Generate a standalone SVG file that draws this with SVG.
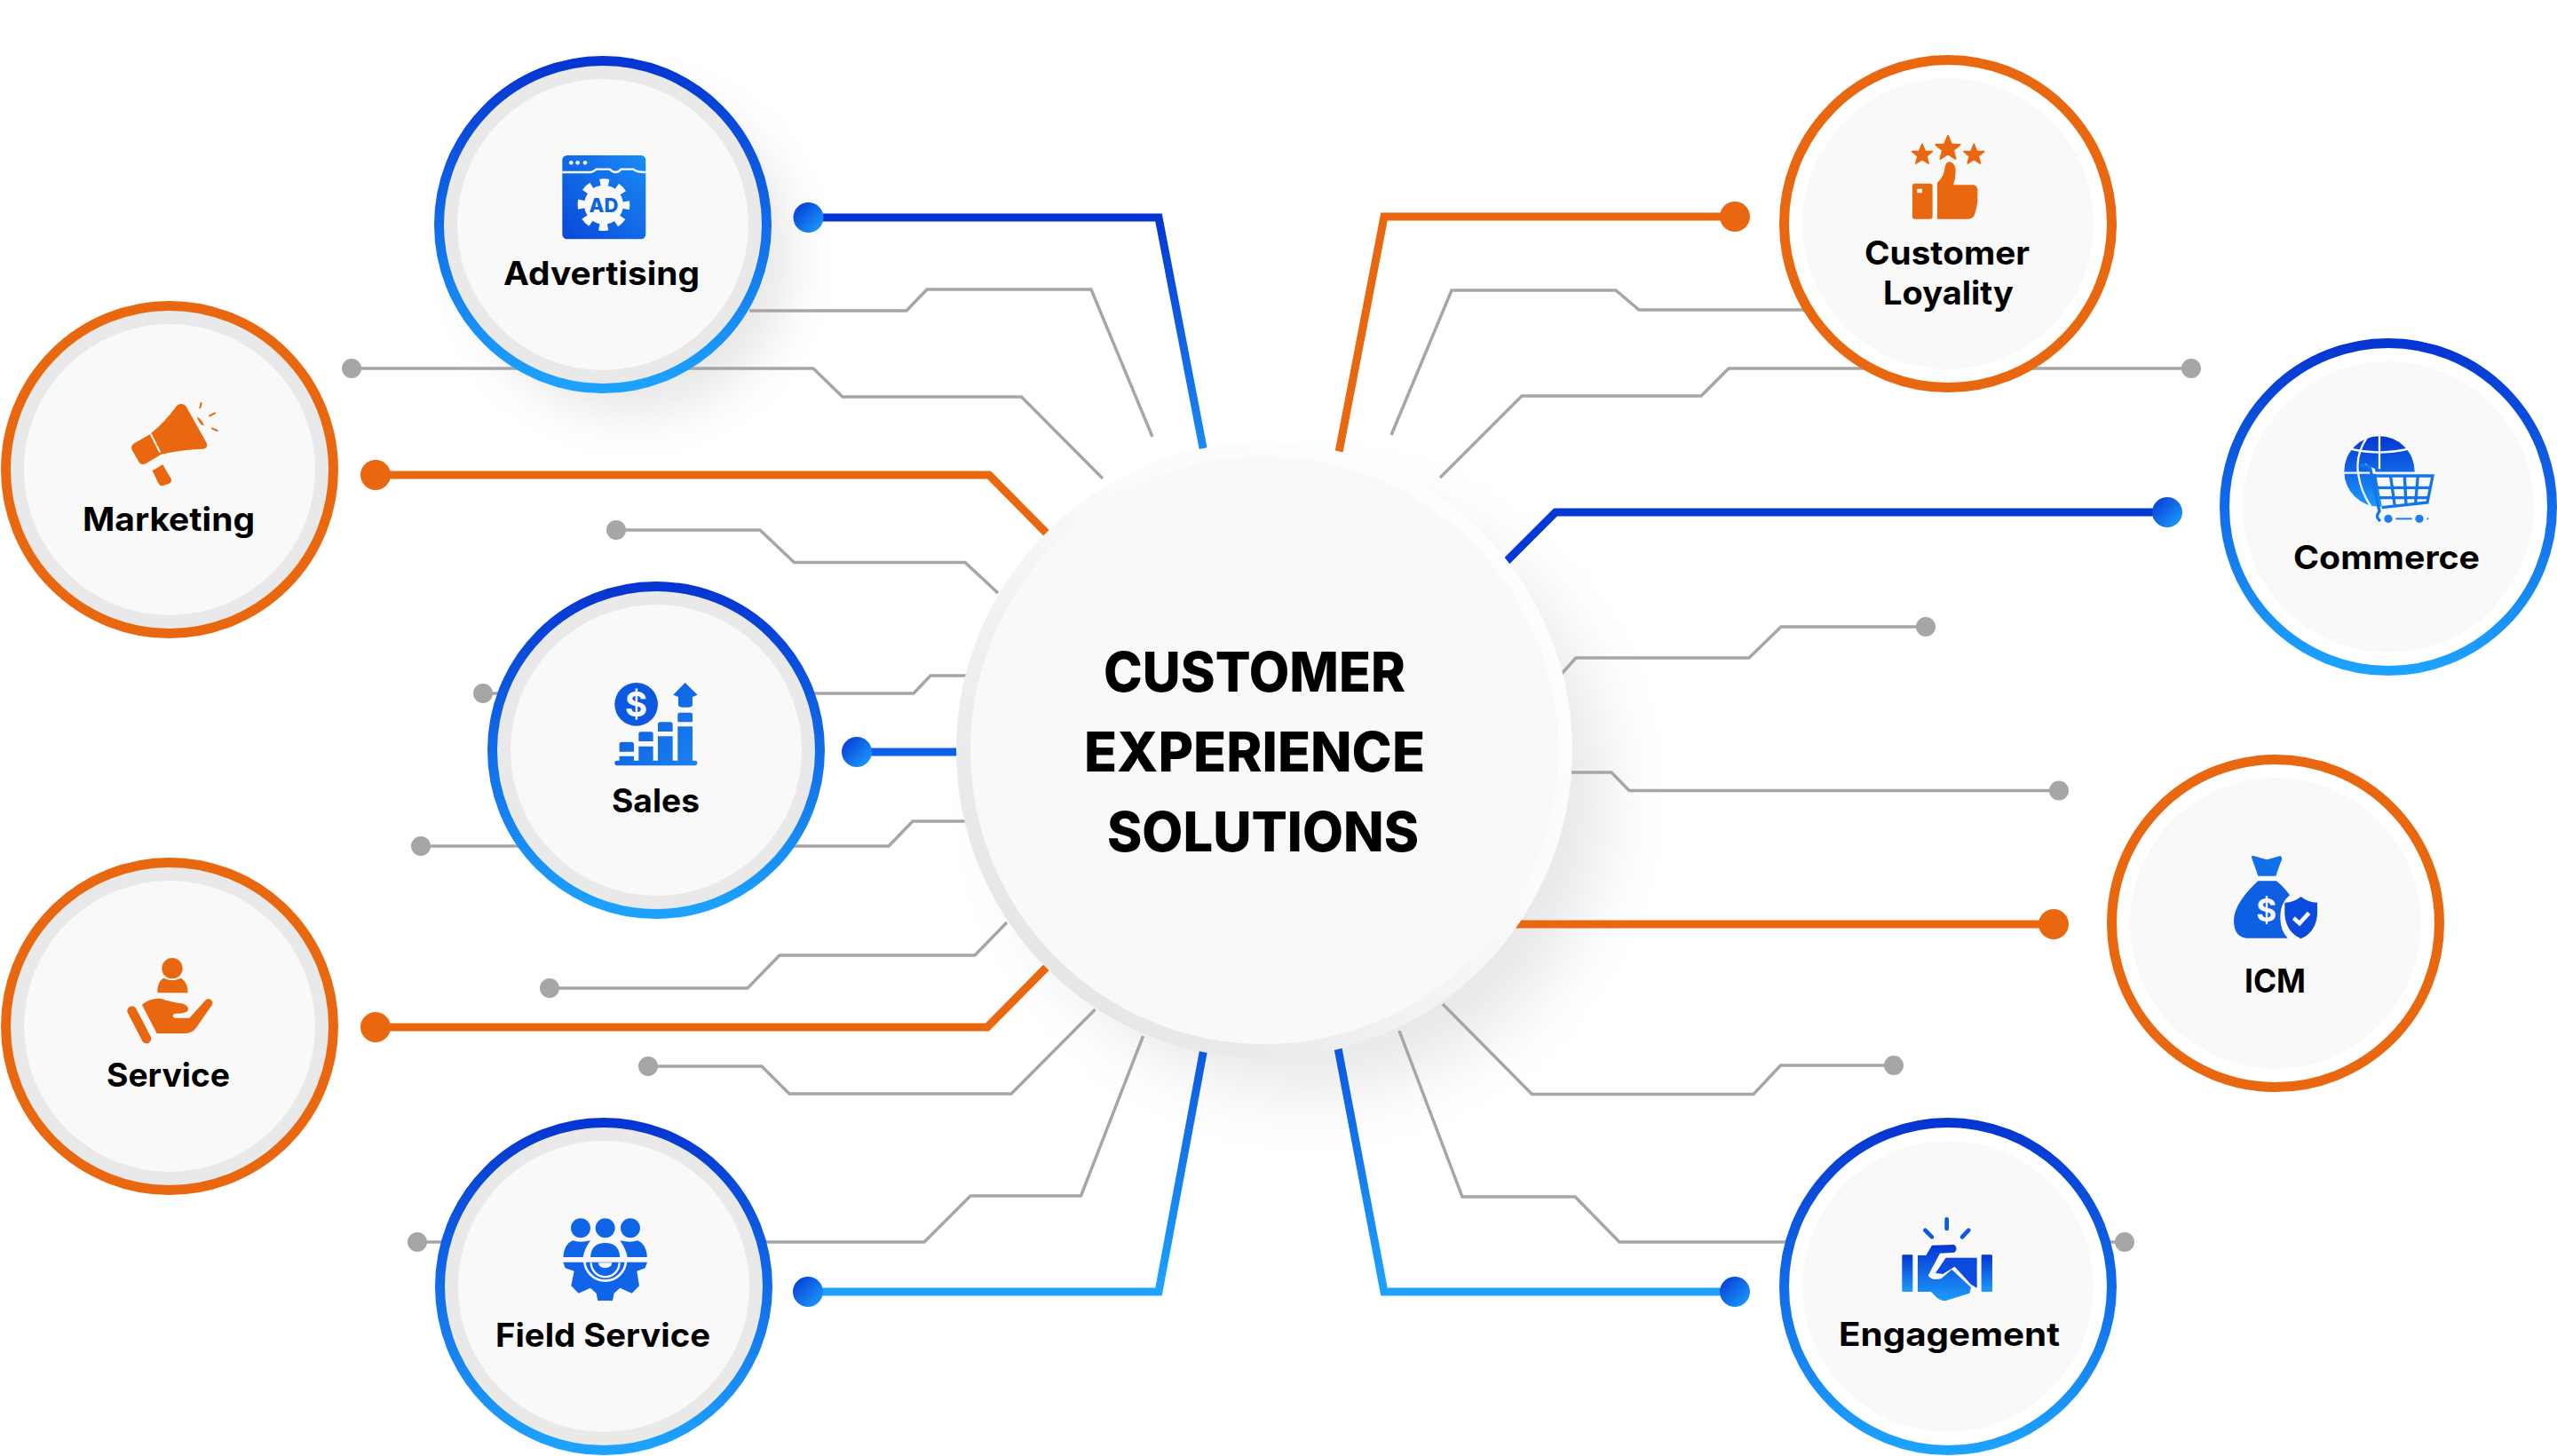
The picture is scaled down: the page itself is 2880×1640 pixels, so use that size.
<svg xmlns="http://www.w3.org/2000/svg" width="2880" height="1640" viewBox="0 0 2880 1640">
<style>
text{font-family:Inter,"Liberation Sans",sans-serif;fill:#000;font-weight:700}
.lb{font-size:37px}
.ti{font-size:62px;font-weight:800}
.gl{fill:none;stroke:#a6a6a6;stroke-width:3.5;stroke-linejoin:miter}
.gd{fill:#a6a6a6}
.cl{fill:none;stroke-width:9;stroke-linejoin:miter}
.or{fill:#e9670f}
.orl{stroke:#e9670f}
.rb{fill:none;stroke-width:11}
.rbo{stroke:#e9670f}
.rbb{stroke:url(#ring)}
.bl{fill:#e9e9e9}
.bw{fill:#fff}
.in{fill:#f9f9f9}
.cut{fill:none;stroke:#f9f9f9;stroke-linecap:round}
</style>
<defs>
<linearGradient id="ring" x1="0" y1="0" x2="0" y2="1"><stop offset="0" stop-color="#0535d2"/><stop offset="1" stop-color="#1da3ff"/></linearGradient>
<linearGradient id="down" x1="0" y1="0" x2="0" y2="1"><stop offset="0" stop-color="#0535d2"/><stop offset="1" stop-color="#1b90f5"/></linearGradient>
<linearGradient id="up" x1="0" y1="1" x2="0" y2="0"><stop offset="0" stop-color="#1da3ff"/><stop offset="1" stop-color="#0a55dc"/></linearGradient>
<linearGradient id="dot" x1="0" y1="0" x2="1" y2="1"><stop offset="0" stop-color="#0535d2"/><stop offset="1" stop-color="#1da3ff"/></linearGradient>
<linearGradient id="ico" x1="0" y1="1" x2="1" y2="0"><stop offset="0" stop-color="#0a47d8"/><stop offset="1" stop-color="#1a8cf5"/></linearGradient>
<linearGradient id="ico2" x1="0" y1="0" x2="1" y2="1"><stop offset="0" stop-color="#0a50da"/><stop offset="1" stop-color="#1a84f2"/></linearGradient>
<linearGradient id="icv" x1="0" y1="0" x2="0" y2="1"><stop offset="0" stop-color="#0535d2"/><stop offset="1" stop-color="#1d9bfb"/></linearGradient>
<linearGradient id="cband" x1="0" y1="1" x2="1" y2="0"><stop offset="0.1" stop-color="#e4e4e4"/><stop offset="0.6" stop-color="#fbfbfb"/><stop offset="1" stop-color="#fff"/></linearGradient>
<filter id="sh1" x="-30%" y="-30%" width="160%" height="160%"><feGaussianBlur stdDeviation="36"/></filter>
<filter id="sh2" x="-30%" y="-30%" width="160%" height="160%"><feGaussianBlur stdDeviation="26"/></filter>
<polygon id="star" points="0,-1 .27,-.34 .95,-.31 .42,.13 .59,.81 0,.43 -.59,.81 -.42,.13 -.95,-.31 -.27,-.34" stroke="#e9670f" stroke-width=".14" stroke-linejoin="round"/>
</defs>
<rect width="2880" height="1640" fill="#fff"/>
<circle cx="1474" cy="895" r="335" fill="#c8c8c8" opacity=".42" filter="url(#sh1)"/>
<circle cx="712" cy="288" r="180" fill="#c8c8c8" opacity=".42" filter="url(#sh2)"/>
<g id="connectors">
<path class="gl" d="M396 415H916L949 447H1150.5L1242 539"/><circle class="gd" cx="396" cy="415" r="11"/>
<path class="gl" d="M844 350H1021L1044 326H1229L1298 492"/>
<path class="gl" d="M694 597H856L894.5 633.5H1087L1124 668"/><circle class="gd" cx="694" cy="597" r="11"/>
<path class="gl" d="M544 781H1029L1048 761H1090"/><circle class="gd" cx="544" cy="781" r="11"/>
<path class="gl" d="M474 953H1001L1028 925H1090"/><circle class="gd" cx="474" cy="953" r="11"/>
<path class="gl" d="M619 1113H842L878 1076H1098L1134 1039"/><circle class="gd" cx="619" cy="1113" r="11"/>
<path class="gl" d="M730 1201H858L889 1232H1139L1233.5 1137"/><circle class="gd" cx="730" cy="1201" r="11"/>
<path class="gl" d="M470 1399H1041L1093 1347H1217.5L1287.5 1167"/><circle class="gd" cx="470" cy="1399" r="11"/>
<path class="gl" d="M1567 490L1635 327H1820L1846 349H2100"/>
<path class="gl" d="M1622 538L1714 446H1916L1947 415H2468"/><circle class="gd" cx="2468" cy="415" r="11"/>
<path class="gl" d="M1740 780L1775 741H1970L2006 706H2169"/><circle class="gd" cx="2169" cy="706" r="11"/>
<path class="gl" d="M1750 870H1815L1835 890.5H2319"/><circle class="gd" cx="2319" cy="890.5" r="11"/>
<path class="gl" d="M1625 1131L1725.5 1232.5H1975L2005.5 1200H2133"/><circle class="gd" cx="2133" cy="1200" r="11"/>
<path class="gl" d="M1576 1161L1647 1348H1774L1824 1399H2393"/><circle class="gd" cx="2393" cy="1399" r="11"/>
<path class="cl" stroke="url(#down)" d="M910 245H1305L1358 520"/><circle fill="url(#dot)" cx="910.5" cy="245" r="17"/>
<path class="cl orl" d="M423 535H1114L1195 617"/><circle class="or" cx="423" cy="535" r="17"/>
<path class="cl" stroke="#0c60e6" d="M965 847H1100"/><circle fill="url(#dot)" cx="965" cy="847" r="17"/>
<path class="cl orl" d="M423 1157H1112L1195 1073"/><circle class="or" cx="423" cy="1157" r="17"/>
<path class="cl" stroke="url(#up)" d="M910 1455H1305L1358 1170"/><circle fill="url(#dot)" cx="910" cy="1455" r="17"/>
<path class="cl orl" d="M1954 244H1559L1505 525"/><circle class="or" cx="1954" cy="244" r="17"/>
<path class="cl" stroke="#0538d4" d="M2441 577H1752L1680 649"/><circle fill="url(#dot)" cx="2441" cy="577" r="17"/>
<path class="cl orl" d="M2313 1041H1690"/><circle class="or" cx="2313" cy="1041" r="17"/>
<path class="cl" stroke="url(#up)" d="M1954 1455H1559L1505 1170"/><circle fill="url(#dot)" cx="1954" cy="1455" r="17"/>
</g>

<g id="center">
<circle cx="1424" cy="845" r="347" fill="url(#cband)"/>
<circle class="in" cx="1424" cy="845" r="331"/>
<text class="ti" x="1243" y="779" textLength="340" lengthAdjust="spacingAndGlyphs">CUSTOMER</text>
<text class="ti" x="1221" y="869" textLength="384" lengthAdjust="spacingAndGlyphs">EXPERIENCE</text>
<text class="ti" x="1247" y="959" textLength="351" lengthAdjust="spacingAndGlyphs">SOLUTIONS</text>
</g>

<g id="node-advertising">
<circle class="bl" cx="679" cy="253" r="185"/><circle class="in" cx="679" cy="253" r="164"/><circle class="rb rbb" cx="679" cy="253" r="184.5"/>
<g transform="translate(480,60) scale(.3333)">
<rect x="460" y="345" width="282" height="283" rx="16" fill="url(#ico)"/>
<path d="M460 402H555Q565 402 575 392H620Q630 402 640 402Q650 402 658 392H700Q710 402 742 402" fill="none" stroke="#f9f9f9" stroke-width="7"/>
<circle cx="490" cy="370" r="7" fill="#f9f9f9"/><circle cx="512" cy="370" r="7" fill="#f9f9f9"/><circle cx="537" cy="370" r="7" fill="#f9f9f9"/>
<circle cx="600" cy="512" r="66" fill="#f9f9f9"/>
<circle cx="600" cy="512" r="76" fill="none" stroke="#f9f9f9" stroke-width="24" stroke-dasharray="29.8 29.9" stroke-dashoffset="14.9"/>
<text x="600" y="537" text-anchor="middle" font-size="66" style="font-weight:800;fill:#0f62e6">AD</text>
</g>
<text class="lb" x="567" y="321" textLength="221" lengthAdjust="spacingAndGlyphs">Advertising</text>
</g>

<g id="node-marketing">
<circle class="bl" cx="191" cy="529" r="185"/><circle class="in" cx="191" cy="529" r="164"/><circle class="rb rbo" cx="191" cy="529" r="184.5"/>
<g class="or" transform="translate(0,330) scale(.3333)">
<path d="M446 530Q440 517 455 507L503 480Q555 440 597 382Q612 366 628 382L697 505Q705 525 685 527Q610 530 545 545L495 575Q478 585 470 572Z"/>
<path d="M515 600L550 580L578 628Q582 640 570 645L548 652Q540 652 535 643Z"/>
<path d="M665 418Q680 425 690 448Q675 448 665 418Z"/>
<path class="cut" d="M510 478L540 537" stroke-width="6"/>
<path d="M680 372L676 388M708 415L726 406M717 458L734 465" fill="none" stroke="#e9670f" stroke-width="6" stroke-linecap="round"/>
</g>
<text class="lb" x="93" y="598" textLength="194" lengthAdjust="spacingAndGlyphs">Marketing</text>
</g>

<g id="node-sales">
<circle class="bl" cx="739" cy="845" r="185"/><circle class="in" cx="739" cy="845" r="164"/><circle class="rb rbb" cx="739" cy="845" r="184.5"/>
<g transform="translate(560,650) scale(.3333)">
<circle cx="470" cy="430" r="73" fill="#0d58e0"/>
<text x="470" y="472" text-anchor="middle" font-size="115" style="fill:#f9f9f9;font-weight:700">$</text>
<path fill="url(#ico2)" d="M397 628Q397 620 405 620H668Q676 620 676 628Q676 637 668 637H405Q397 637 397 628ZM413 605H462V620H413ZM413 565Q413 557 421 557H454Q462 557 462 565V590H413ZM478 530Q478 523 486 523H519Q527 523 527 530V555H478ZM478 572H527V620H478ZM543 498Q543 490 551 490H585Q593 490 593 498V522H543ZM543 538H593V620H543ZM610 465Q610 458 618 458H652Q660 458 660 465V490H610ZM610 505H660V620H610ZM635 357L677 398L660 405V430Q660 440 648 440H624Q612 440 612 430V405L595 398Z"/>
</g>
<text class="lb" x="689" y="915" textLength="99" lengthAdjust="spacingAndGlyphs">Sales</text>
</g>

<g id="node-service">
<circle class="bl" cx="191" cy="1156" r="185"/><circle class="in" cx="191" cy="1156" r="164"/><circle class="rb rbo" cx="191" cy="1156" r="184.5"/>
<g class="or" transform="translate(0,960) scale(.3333)">
<circle cx="582" cy="392" r="35"/>
<path d="M532 475Q530 440 552 425Q582 440 612 425Q635 440 635 475Z"/>
<path d="M446 536L495 630" fill="none" stroke="#e9670f" stroke-width="32" stroke-linecap="round"/>
<path d="M480 515Q510 490 545 495Q570 505 620 512Q640 520 635 535Q630 545 590 545Q578 553 590 560H640L690 505Q705 485 718 505Q720 515 710 525L665 590Q650 612 625 612H530Z"/>
</g>
<text class="lb" x="120" y="1224" textLength="139" lengthAdjust="spacingAndGlyphs">Service</text>
</g>

<g id="node-field-service">
<circle class="bl" cx="680" cy="1449" r="185"/><circle class="in" cx="680" cy="1449" r="164"/><circle class="rb rbb" cx="680" cy="1449" r="184.5"/>
<g transform="translate(490,1260) scale(.3333)">
<path d="M433 485H717L710 505L682 515L690 565L665 590L625 572L605 590L600 615H550L545 590L525 572L485 590L460 565L470 515L440 505Z" fill="#0f64e8"/>
<circle cx="492" cy="370" r="33" fill="#0f64e8"/><circle cx="575" cy="370" r="33" fill="#0f64e8"/><circle cx="660" cy="370" r="33" fill="#0f64e8"/>
<path d="M433 468Q435 425 465 412Q490 420 525 412Q505 440 500 468Z" fill="#0f64e8"/>
<path d="M717 468Q715 425 685 412Q660 420 625 412Q645 440 650 468Z" fill="#0f64e8"/>
<circle cx="575" cy="478" r="70" fill="none" stroke="#f9f9f9" stroke-width="8"/>
<path d="M525 468Q528 420 575 420Q622 420 625 468Z" fill="#0f64e8"/>
<path d="M527 487A48 48 0 0 0 623 487" fill="none" stroke="#f9f9f9" stroke-width="7"/>
<path d="M552 487A23 18 0 0 0 598 487Z" fill="#f9f9f9"/>
</g>
<text class="lb" x="558" y="1517" textLength="242" lengthAdjust="spacingAndGlyphs">Field Service</text>
</g>

<g id="node-customer-loyality">
<circle class="bw" cx="2194" cy="252" r="185"/><circle class="in" cx="2194" cy="252" r="164"/><circle class="rb rbo" cx="2194" cy="252" r="184.5"/>
<g class="or" transform="translate(2000,60) scale(.3333)">
<use href="#star" transform="translate(495,343) scale(36)"/>
<use href="#star" transform="translate(582,322) scale(43)"/>
<use href="#star" transform="translate(670,343) scale(36)"/>
<path fill-rule="evenodd" d="M470 440H522Q530 440 530 448V552Q530 560 522 560H470Q462 560 462 552V448Q462 440 470 440ZM478 458V472H495V458Z"/>
<path d="M546 560V438Q570 415 572 385Q575 365 590 367Q610 375 608 400Q608 425 600 445H670Q685 450 682 470V500Q678 530 672 545Q668 558 650 560Z"/>
</g>
<text class="lb" x="2100" y="298" textLength="186" lengthAdjust="spacingAndGlyphs">Customer</text>
<text class="lb" x="2121" y="343" textLength="147" lengthAdjust="spacingAndGlyphs">Loyality</text>
</g>

<g id="node-commerce">
<circle class="bw" cx="2690" cy="571" r="185"/><circle class="in" cx="2690" cy="571" r="164"/><circle class="rb rbb" cx="2690" cy="571" r="184.5"/>
<g transform="translate(2500,380) scale(.3333)">
<circle cx="540" cy="453" r="119" fill="url(#icv)"/>
<path d="M420 458H665M540 330V445M445 378Q540 400 635 378M500 335Q455 400 470 470Q478 520 510 570" fill="none" stroke="#f9f9f9" stroke-width="7"/>
<path d="M490 425L525 445L550 580L700 580L730 460L520 460Z" fill="#f9f9f9"/>
<path d="M478 432L508 438L540 588Q525 605 540 618" fill="none" stroke="#1374ec" stroke-width="10" stroke-linecap="round"/>
<path d="M525 468H720L702 558L548 575M533 508H712M540 542H705M578 470L592 570M625 470L630 565M670 470L662 560" fill="none" stroke="#1374ec" stroke-width="10"/>
<circle cx="570" cy="613" r="14" fill="#1a80f0"/><circle cx="675" cy="613" r="14" fill="#1a80f0"/><circle cx="703" cy="613" r="3.5" fill="#1a80f0"/>
<path d="M595 613H650" stroke="#1a80f0" stroke-width="6"/>
</g>
<text class="lb" x="2583" y="641" textLength="210" lengthAdjust="spacingAndGlyphs">Commerce</text>
</g>

<g id="node-icm">
<circle class="bw" cx="2563" cy="1040" r="185"/><circle class="in" cx="2563" cy="1040" r="164"/><circle class="rb rbo" cx="2563" cy="1040" r="184.5"/>
<g transform="translate(2380,860) scale(.3333)">
<path fill="#1070ea" d="M468 318Q465 312 475 312L520 325L565 312Q572 315 570 325Q560 350 550 380H490Q480 350 468 318Z"/>
<path fill="#0f5fe2" d="M490 397H552Q580 420 597 445Q565 470 565 520Q565 565 590 590H450Q408 585 408 530Q410 470 490 397Z"/>
<text x="518" y="535" text-anchor="middle" font-size="105" style="fill:#f9f9f9;font-weight:700">$</text>
<path fill="#0a4adc" d="M635 450Q660 470 690 470V510Q685 570 635 592Q585 570 580 510V470Q610 470 635 450Z"/>
<path d="M610 522L630 540L662 505" fill="none" stroke="#f9f9f9" stroke-width="14"/>
</g>
<text class="lb" x="2528" y="1118" textLength="69" lengthAdjust="spacingAndGlyphs">ICM</text>
</g>

<g id="node-engagement">
<circle class="bw" cx="2194" cy="1449" r="185"/><circle class="in" cx="2194" cy="1449" r="164"/><circle class="rb rbb" cx="2194" cy="1449" r="184.5"/>
<g transform="translate(2000,1260) scale(.3333)">
<rect x="427" y="460" width="36" height="125" rx="4" fill="url(#icv)"/>
<rect x="695" y="460" width="37" height="125" rx="4" fill="url(#icv)"/>
<path d="M578 340V372M505 377L528 400M652 377L630 400" fill="none" stroke="#0d5ae2" stroke-width="14" stroke-linecap="round"/>
<path fill="url(#icv)" d="M480 462H508L528 428L603 426Q618 438 605 452L555 455L515 530Q530 550 560 540L595 510L660 570L655 590L575 615Q560 618 545 605L525 585H480Z"/>
<path fill="#0a4adc" d="M575 470H680V572L660 560L605 500L565 525L540 522Z"/>
</g>
<text class="lb" x="2071" y="1516" textLength="249" lengthAdjust="spacingAndGlyphs">Engagement</text>
</g>
</svg>
